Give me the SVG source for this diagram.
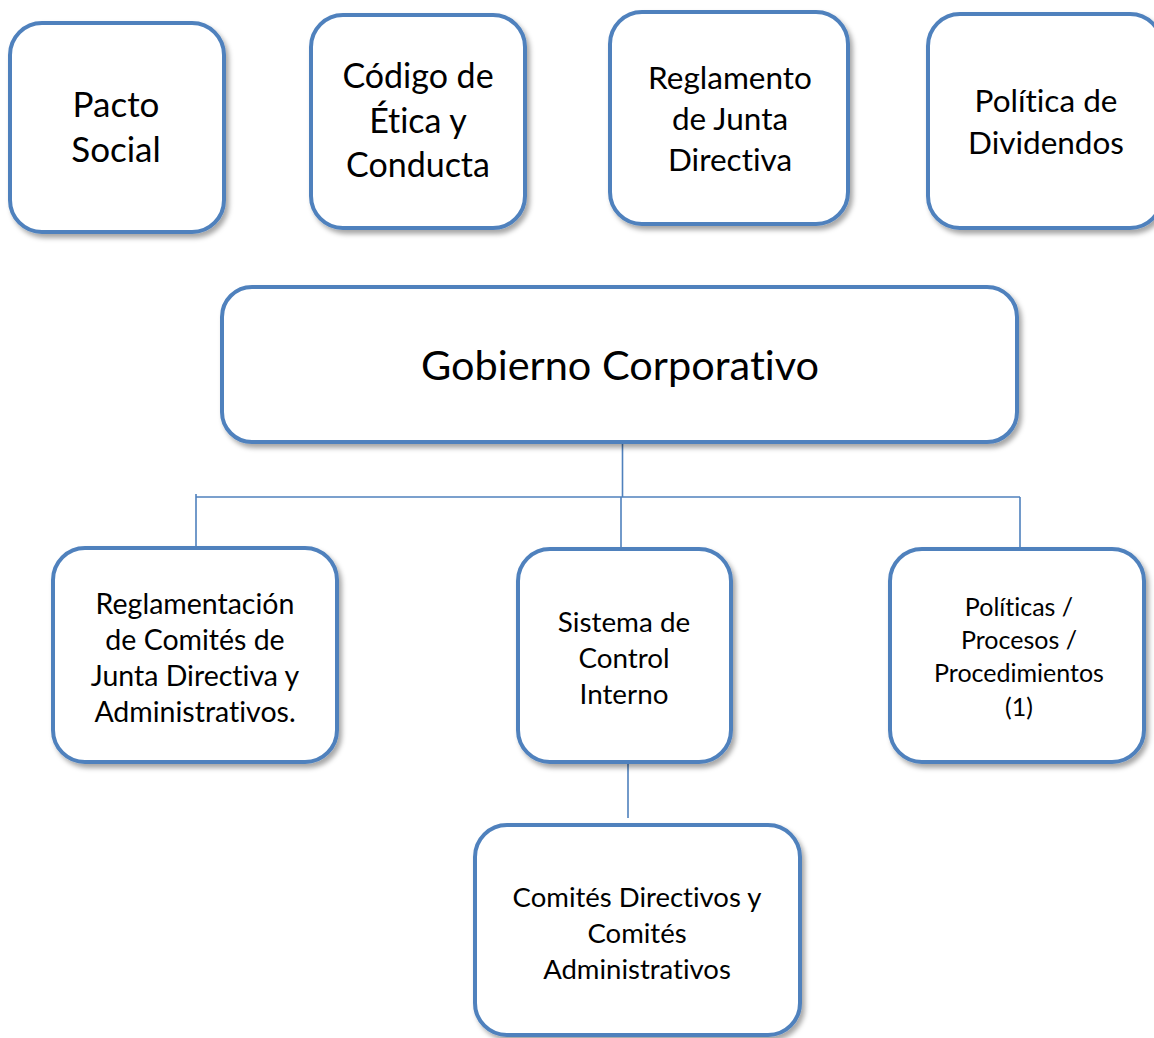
<svg xmlns="http://www.w3.org/2000/svg" width="1154" height="1038" viewBox="0 0 1154 1038">
<defs>
<filter id="sh" x="-10%" y="-10%" width="130%" height="130%">
<feDropShadow dx="3" dy="4" stdDeviation="2.5" flood-color="#000" flood-opacity="0.35"/>
</filter>
<style>
.box{fill:#fff;stroke:#4F81BD;stroke-width:4;filter:url(#sh)}
.t{font-family:Lato,"Liberation Sans",sans-serif;fill:#000;text-anchor:middle;font-variant-ligatures:none;font-feature-settings:"liga" 0,"dlig" 0}
.c{stroke:#4F81BD;stroke-width:1.6;fill:none}
</style>
</defs>
<rect width="1154" height="1038" fill="#fff"/>
<g id="connectors">
<line class="c" x1="622.5" y1="442" x2="622.5" y2="497"/>
<line class="c" x1="196" y1="497" x2="1020" y2="497"/>
<line class="c" x1="196" y1="494" x2="196" y2="549"/>
<line class="c" x1="621" y1="497" x2="621" y2="553"/>
<line class="c" x1="1020" y1="497" x2="1020" y2="553"/>
<line class="c" x1="628" y1="762" x2="628" y2="818"/>
</g>
<g id="pacto">
<rect class="box" x="10" y="23" width="214" height="209" rx="32"/>
<text class="t" font-size="35"><tspan x="116" y="117">Pacto</tspan><tspan x="116" y="162">Social</tspan></text>
</g>
<g id="codigo">
<rect class="box" x="311" y="15" width="214" height="213" rx="32"/>
<text class="t" font-size="34"><tspan x="418" y="88">Código de</tspan><tspan x="418" y="133">Ética y</tspan><tspan x="418" y="177">Conducta</tspan></text>
</g>
<g id="reglamento">
<rect class="box" x="610" y="12" width="238" height="212" rx="32"/>
<text class="t" font-size="31.5"><tspan x="730" y="89">Reglamento</tspan><tspan x="730" y="130">de Junta</tspan><tspan x="730" y="171">Directiva</tspan></text>
</g>
<g id="dividendos">
<rect class="box" x="928" y="14" width="234" height="214" rx="32"/>
<text class="t" font-size="31.5"><tspan x="1046" y="112">Política de</tspan><tspan x="1046" y="154">Dividendos</tspan></text>
</g>
<g id="gobierno">
<rect class="box" x="222" y="287" width="795" height="155" rx="30"/>
<text class="t" font-size="41.5" x="620" y="380">Gobierno Corporativo</text>
</g>
<g id="reglamentacion">
<rect class="box" x="53" y="548" width="284" height="214" rx="32"/>
<text class="t" font-size="28.5"><tspan x="195" y="614">Reglamentación</tspan><tspan x="195" y="650">de Comités de</tspan><tspan x="195" y="686">Junta Directiva y</tspan><tspan x="195" y="722">Administrativos.</tspan></text>
</g>
<g id="sistema">
<rect class="box" x="518" y="549" width="213" height="213" rx="32"/>
<text class="t" font-size="27.8"><tspan x="624" y="632">Sistema de</tspan><tspan x="624" y="668">Control</tspan><tspan x="624" y="704">Interno</tspan></text>
</g>
<g id="politicas">
<rect class="box" x="890" y="549" width="254" height="213" rx="32"/>
<text class="t" font-size="25"><tspan x="1019" y="616">Políticas /</tspan><tspan x="1019" y="649">Procesos /</tspan><tspan x="1019" y="682">Procedimientos</tspan><tspan x="1019" y="716">(1)</tspan></text>
</g>
<g id="comites">
<rect class="box" x="475" y="825" width="325" height="210" rx="32"/>
<text class="t" font-size="27.5"><tspan x="637" y="907">Comités Directivos y</tspan><tspan x="637" y="943">Comités</tspan><tspan x="637" y="979">Administrativos</tspan></text>
</g>
</svg>
